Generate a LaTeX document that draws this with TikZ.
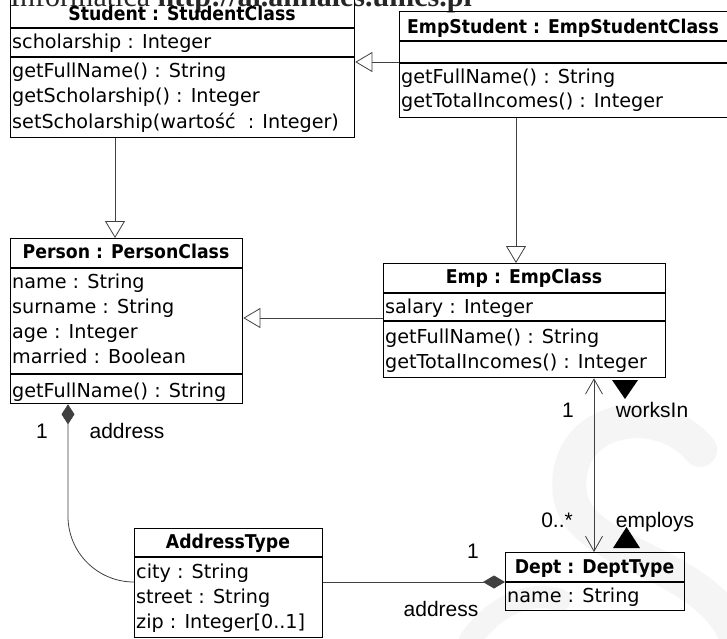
\documentclass[tikz,border=0pt]{standalone}
\usepackage{fontspec}
\usetikzlibrary{arrows.meta,calc}
\newfontfamily\umlfont{DejaVu Sans}
\newfontfamily\umlheadfont[FakeStretch=0.91]{DejaVu Sans Bold}
\newfontfamily\labfont{Liberation Sans}
\newfontfamily\hdrfont{Liberation Serif}
\begin{document}
\begin{tikzpicture}[x=1pt,y=-1pt,
  umlbox/.style={draw, line width=1.3pt, inner sep=0pt, anchor=north west},
  sepline/.style={line width=1.1pt},
  umltxt/.style={font=\umlfont\fontsize{19.2}{22}\selectfont, inner sep=0pt, anchor=base west},
  umlhead/.style={font=\umlheadfont\fontsize{19}{22}\selectfont, inner sep=0pt, anchor=base},
  lab/.style={font=\labfont\fontsize{21}{24}\selectfont, inner sep=0pt, anchor=base},
  conn/.style={draw=black!75, line width=0.8pt},
  gen/.style={conn, -{Triangle[open,length=17pt,width=20pt]}},
  nav/.style={conn, {Straight Barb[length=15pt,width=17pt]}-{Straight Barb[length=15pt,width=17pt]}},
  comp/.style={conn, -{Diamond[length=22pt,width=13pt]}},
  compstart/.style={conn, {Diamond[length=20pt,width=13pt]}-}
]
\useasboundingbox (0,0) rectangle (727,638);
\clip (0,0) rectangle (727,638);
\fill[white] (0,0) rectangle (727,638);

% faint watermark (large S shape)
\draw[black!4, line width=34pt, line cap=round]
  (700,450) .. controls (660,400) and (560,415) .. (570,495)
  .. controls (580,560) and (720,560) .. (740,650);
\draw[black!4, line width=22pt, line cap=round]
  (470,640) .. controls (495,605) and (530,590) .. (560,600);

% header line (cut off at the top)
\node[font=\hdrfont\fontsize{30}{30}\selectfont, text=black!85, anchor=base west, inner sep=0pt] (hdr) at (10,6) {Informatica \textbf{http://ai.annales.umcs.pl}};

% ---------- Student ----------
\node[umlbox, minimum width=344pt, minimum height=140pt] (student) at (10,-3) {};
\draw[sepline] (10,28) -- (354,28);
\draw[sepline] (10,57) -- (354,57);
\node[umlhead] (st-h) at (182,20) {Student : StudentClass};
\node[umltxt] (st-a1) at (12,48) {scholarship : Integer};
\node[umltxt] (st-m1) at (12,77) {getFullName() : String};
\node[umltxt] (st-m2) at (12,102) {getScholarship() : Integer};
\node[umltxt] (st-m3) at (12,128) {setScholarship(wartość\ \ : Integer)};

% ---------- EmpStudent ----------
\node[umlbox, minimum width=328pt, minimum height=106pt] (es) at (399,11) {};
\draw[sepline] (399,41) -- (727,41);
\draw[sepline] (399,63) -- (727,63);
\node[umlhead] (es-h) at (563,33) {EmpStudent : EmpStudentClass};
\node[umltxt] (es-m1) at (401,83) {getFullName() : String};
\node[umltxt] (es-m2) at (401,107) {getTotalIncomes() : Integer};

% ---------- Person ----------
\node[umlbox, minimum width=232pt, minimum height=165pt] (person) at (10,238) {};
\draw[sepline] (10,268) -- (242,268);
\draw[sepline] (10,374) -- (242,374);
\node[umlhead] (pe-h) at (126,258) {Person : PersonClass};
\node[umltxt] (pe-a1) at (12,288) {name : String};
\node[umltxt] (pe-a2) at (12,313) {surname : String};
\node[umltxt] (pe-a3) at (12,338) {age : Integer};
\node[umltxt] (pe-a4) at (12,363) {married : Boolean};
\node[umltxt] (pe-m1) at (12,397) {getFullName() : String};

% ---------- Emp ----------
\node[umlbox, minimum width=282pt, minimum height=114pt] (emp) at (383,263) {};
\draw[sepline] (383,293) -- (665,293);
\draw[sepline] (383,321) -- (665,321);
\node[umlhead] (em-h) at (524,283) {Emp : EmpClass};
\node[umltxt] (em-a1) at (385,313) {salary : Integer};
\node[umltxt] (em-m1) at (385,343) {getFullName() : String};
\node[umltxt] (em-m2) at (385,368) {getTotalIncomes() : Integer};

% ---------- Dept ----------
\node[umlbox, minimum width=179pt, minimum height=58pt] (dept) at (505,552) {};
\draw[sepline] (505,582) -- (684,582);
\node[umlhead] (de-h) at (594.5,573) {Dept : DeptType};
\node[umltxt] (de-a1) at (507,602) {name : String};

% ---------- AddressType ----------
\node[umlbox, minimum width=188pt, minimum height=109pt] (addr) at (134,528) {};
\draw[sepline] (134,557) -- (322,557);
\node[umlhead] (ad-h) at (228,548) {AddressType};
\node[umltxt] (ad-a1) at (136,578) {city : String};
\node[umltxt] (ad-a2) at (136,603) {street : String};
\node[umltxt] (ad-a3) at (136,628) {zip : Integer[0..1]};

% ---------- connectors ----------
\coordinate (esl) at ($(es.north west)+(0,51)$);
\draw[gen] (esl) -- (esl -| student.east);

\coordinate (sp) at ($(student.south west)+(105,0)$);
\draw[gen] (sp) -- (sp |- person.north);

\coordinate (ee) at ($(es.south west)+(117,0)$);
\draw[gen] (ee) -- (ee |- emp.north);

\coordinate (ep) at ($(emp.north west)+(0,55)$);
\draw[gen] (ep) -- (ep -| person.east);

\coordinate (de) at ($(dept.north west)+(89,0)$);
\draw[nav] (de |- emp.south) -- (de);

\coordinate (ad) at ($(addr.north east)+(0,54)$);
\draw[comp] (ad) -- (ad -| dept.west);

\coordinate (pa) at ($(person.south west)+(58,0)$);
\coordinate (aw) at ($(addr.north west)+(0,54)$);
\draw[compstart] (pa) -- ($(pa)+(0,112)$) to[out=-90,in=180] (aw);

% reading direction triangles
\fill (612,380) -- (638,380) -- (625,399) -- cycle;
\fill (613,548) -- (640,548) -- (626.5,527) -- cycle;

% labels
\node[lab] (l1) at (568,417) {1};
\node[lab] (l2) at (652,417) {worksIn};
\node[lab] (l3) at (557,527) {0..*};
\node[lab] (l4) at (655,527) {employs};
\node[lab] (l5) at (473,558) {1};
\node[lab] (l6) at (441,616) {address};
\node[lab] (l7) at (42,438) {1};
\node[lab] (l8) at (127,438) {address};
\end{tikzpicture}
\end{document}
